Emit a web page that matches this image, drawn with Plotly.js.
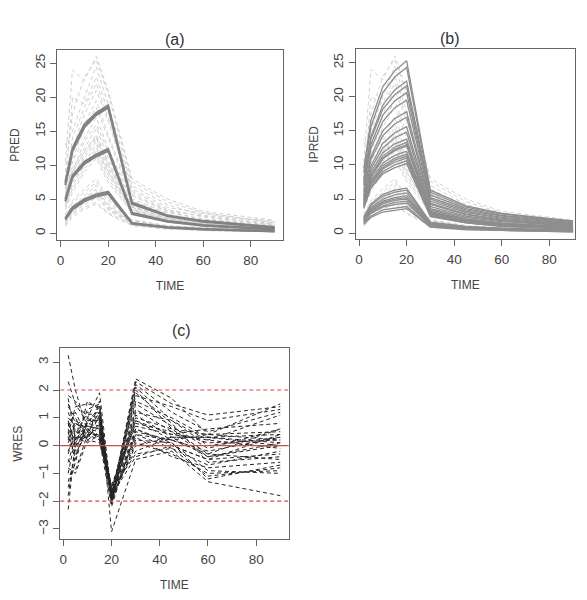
<!DOCTYPE html>
<html>
<head>
<meta charset="utf-8">
<script src="https://cdn.plot.ly/plotly-3.0.1.min.js"></script>
<style>html,body{margin:0;padding:0;background:#fff;}#plot{width:587px;height:600px;}</style>
</head>
<body>
<div id="plot"></div>
<script>
// Sampling times
const TIME = [2, 5, 10, 15, 20, 30, 45, 60, 90];

// Population predictions (PRED) for the three dose groups (two nearly overlapping curves each)
const predHigh  = [7.5, 12.5, 16.0, 17.7, 18.8, 4.5, 2.6, 1.8, 0.9];
const predHigh2 = [7.1, 12.1, 15.6, 17.4, 18.5, 4.3, 2.5, 1.7, 0.8];
const predMid   = [5.0, 8.5, 10.5, 11.6, 12.4, 3.0, 1.8, 1.2, 0.6];
const predMid2  = [4.7, 8.2, 10.2, 11.3, 12.1, 2.8, 1.7, 1.1, 0.55];
const predLow   = [2.2, 3.8, 5.0, 5.7, 6.1, 1.5, 0.9, 0.6, 0.3];
const predLow2  = [2.0, 3.5, 4.7, 5.4, 5.8, 1.4, 0.8, 0.55, 0.28];

// Individual predictions (IPRED), one row per subject
const ipred = [
  [9.5, 16.5, 21.5, 23.8, 25.3, 6.3, 4.0, 2.9, 1.8],
  [8.8, 15.6, 20.6, 22.9, 24.3, 6.0, 3.8, 2.8, 1.7],
  [8.0, 14.2, 18.8, 21.0, 22.3, 5.6, 3.6, 2.6, 1.6],
  [7.7, 13.8, 18.2, 20.3, 21.6, 5.2, 3.4, 2.5, 1.5],
  [7.3, 13.0, 17.3, 19.4, 20.6, 5.0, 3.2, 2.3, 1.4],
  [7.0, 12.4, 16.4, 18.4, 19.5, 4.7, 3.0, 2.2, 1.3],
  [6.3, 11.3, 15.0, 16.8, 17.8, 4.4, 2.8, 2.0, 1.2],
  [6.0, 10.8, 14.3, 16.0, 17.0, 4.2, 2.7, 1.9, 1.2],
  [5.6, 9.9, 13.2, 14.7, 15.6, 3.9, 2.5, 1.8, 1.1],
  [5.3, 9.4, 12.5, 14.0, 14.8, 3.6, 2.3, 1.7, 1.0],
  [5.0, 8.9, 11.8, 13.1, 13.8, 3.4, 2.1, 1.5, 0.9],
  [4.8, 8.5, 11.3, 12.6, 13.3, 3.2, 2.0, 1.4, 0.8],
  [4.6, 8.2, 10.9, 12.1, 12.8, 3.0, 1.9, 1.3, 0.8],
  [4.2, 7.5, 9.9, 11.0, 11.6, 2.8, 1.7, 1.2, 0.7],
  [4.1, 7.3, 9.6, 10.7, 11.3, 2.7, 1.7, 1.2, 0.7],
  [4.0, 7.1, 9.4, 10.4, 11.0, 2.6, 1.6, 1.1, 0.6],
  [3.8, 6.8, 9.0, 10.0, 10.6, 2.5, 1.5, 1.0, 0.6],
  [4.4, 7.8, 10.3, 11.4, 12.0, 2.9, 1.8, 1.3, 0.7],
  [4.7, 8.3, 11.0, 12.3, 13.0, 3.1, 1.9, 1.4, 0.8],
  [3.7, 6.6, 8.7, 9.6, 10.2, 2.4, 1.5, 1.0, 0.6],
  [2.4, 4.3, 5.7, 6.3, 6.6, 1.6, 1.0, 0.7, 0.4],
  [2.3, 4.1, 5.4, 6.0, 6.3, 1.5, 0.9, 0.7, 0.4],
  [2.1, 3.8, 5.0, 5.6, 5.9, 1.4, 0.9, 0.6, 0.4],
  [2.0, 3.6, 4.7, 5.2, 5.5, 1.3, 0.8, 0.6, 0.3],
  [1.9, 3.4, 4.5, 5.0, 5.2, 1.3, 0.8, 0.6, 0.3],
  [1.8, 3.2, 4.3, 4.8, 5.0, 1.2, 0.7, 0.5, 0.3],
  [1.7, 3.1, 4.0, 4.5, 4.7, 1.1, 0.7, 0.5, 0.3],
  [1.6, 2.9, 3.8, 4.2, 4.4, 1.1, 0.7, 0.5, 0.3],
  [1.4, 2.5, 3.4, 3.7, 3.9, 0.9, 0.6, 0.4, 0.2],
  [1.3, 2.3, 3.1, 3.4, 3.6, 0.9, 0.5, 0.4, 0.2]
];

// Observed concentrations (DV), one row per subject
const dv = [
  [10.5, 24.0, 22.5, 26.0, 21.0, 8.0, 5.0, 3.2, 1.9],
  [9.0, 17.5, 23.0, 25.5, 20.5, 7.6, 4.6, 3.0, 1.6],
  [13.0, 15.0, 20.0, 24.5, 19.0, 7.0, 4.2, 2.6, 1.8],
  [7.0, 20.0, 19.0, 23.0, 18.0, 6.5, 3.8, 2.9, 1.5],
  [6.5, 14.0, 18.5, 22.0, 17.0, 6.2, 3.5, 2.4, 1.3],
  [8.0, 12.5, 17.5, 21.0, 16.5, 5.8, 3.3, 2.5, 1.4],
  [5.5, 12.0, 16.0, 19.5, 14.5, 5.5, 3.2, 2.0, 1.2],
  [7.0, 11.0, 15.5, 18.5, 14.0, 5.0, 3.0, 2.1, 1.3],
  [5.0, 10.5, 14.0, 17.0, 12.5, 4.8, 2.8, 1.8, 1.0],
  [6.0, 9.0, 13.5, 16.0, 12.0, 4.5, 2.6, 1.9, 1.1],
  [5.5, 9.5, 12.5, 15.5, 11.0, 4.3, 2.4, 1.6, 1.0],
  [4.5, 9.0, 12.0, 14.5, 10.5, 4.0, 2.2, 1.5, 0.8],
  [5.0, 8.0, 11.5, 14.0, 10.0, 3.8, 2.2, 1.4, 0.9],
  [4.0, 8.0, 10.5, 13.0, 9.0, 3.5, 1.9, 1.3, 0.7],
  [4.5, 7.0, 10.0, 12.5, 9.0, 3.4, 2.0, 1.2, 0.8],
  [3.5, 7.5, 10.0, 12.0, 8.5, 3.3, 1.8, 1.2, 0.6],
  [4.0, 6.5, 9.5, 11.5, 8.0, 3.1, 1.7, 1.1, 0.7],
  [4.8, 8.5, 11.0, 13.5, 9.5, 3.6, 2.0, 1.4, 0.7],
  [5.2, 8.8, 12.0, 14.2, 10.0, 3.9, 2.1, 1.5, 0.9],
  [3.5, 6.0, 9.0, 11.0, 7.5, 3.0, 1.6, 1.0, 0.6],
  [2.8, 4.8, 6.5, 8.0, 5.2, 2.0, 1.1, 0.8, 0.4],
  [2.2, 4.5, 6.0, 7.5, 5.0, 1.9, 1.0, 0.8, 0.5],
  [2.5, 4.0, 5.5, 7.0, 4.6, 1.8, 1.0, 0.7, 0.4],
  [1.8, 3.8, 5.2, 6.5, 4.2, 1.6, 0.9, 0.6, 0.3],
  [2.0, 3.6, 5.0, 6.2, 4.0, 1.6, 0.9, 0.7, 0.4],
  [1.6, 3.5, 4.8, 6.0, 3.8, 1.5, 0.8, 0.5, 0.3],
  [1.9, 3.2, 4.5, 5.6, 3.6, 1.4, 0.8, 0.6, 0.3],
  [1.4, 3.0, 4.2, 5.2, 3.4, 1.3, 0.7, 0.5, 0.3],
  [1.2, 2.8, 3.8, 4.6, 3.0, 1.2, 0.7, 0.4, 0.2],
  [1.0, 2.4, 3.5, 4.3, 2.8, 1.1, 0.6, 0.4, 0.2]
];

// Weighted residuals (WRES), one row per subject
const wres = [
  [3.25, 2.0, 0.5, 1.0, -1.9, 2.4, 1.7, 0.4, 1.5],
  [2.3, 1.5, 0.8, 1.4, -2.1, 2.3, 1.5, 1.1, 1.4],
  [1.8, 1.6, 1.0, 1.9, -1.8, 2.2, 1.2, 0.5, 1.2],
  [1.7, 0.2, 1.3, 1.5, -2.0, 2.1, 0.9, 0.2, 1.1],
  [1.5, 0.8, 0.5, 1.2, -1.7, 2.0, 0.6, -0.3, 0.6],
  [0.8, -0.1, 1.6, 1.3, -1.6, 1.6, 1.0, 0.3, 0.4],
  [0.7, 1.2, 0.3, 0.8, -2.0, 1.3, 0.5, -0.4, 0.1],
  [0.5, -0.5, 0.9, 1.1, -1.9, 1.1, 0.3, 0.3, 0.0],
  [0.3, 0.6, 0.2, 0.5, -1.5, 0.9, 0.2, -0.2, 0.3],
  [0.2, 0.9, 0.6, 0.3, -1.4, 0.7, 0.4, 0.2, -0.1],
  [0.0, 0.1, 0.7, 0.6, -1.8, 0.6, 0.0, -0.5, 0.4],
  [-0.2, 0.4, 1.2, 0.9, -2.1, 0.5, 0.2, 0.4, 0.2],
  [-0.5, -0.9, 0.4, 0.2, -1.7, 0.4, -0.1, -1.1, -0.8],
  [-1.0, 0.3, 0.1, 0.4, -1.9, 0.2, 0.1, -1.2, -0.7],
  [-1.3, -0.4, 0.8, 0.7, -2.0, 0.1, -0.3, -1.0, -0.9],
  [-1.8, 0.0, 0.5, 0.3, -1.6, -0.3, -0.1, -0.7, -0.2],
  [-2.3, 0.2, 0.6, 0.5, -1.8, -0.4, 0.0, -0.5, -0.3],
  [1.2, 0.5, 0.3, 1.6, -3.1, -0.5, -0.2, -1.3, -1.8],
  [0.6, -0.2, 0.9, 0.9, -1.9, 0.0, 0.3, -0.4, 0.0],
  [1.0, 0.7, 1.1, 1.2, -2.0, 1.8, 1.4, 0.9, 1.3],
  [-0.8, -1.0, 0.2, 0.1, -1.5, 1.0, 0.6, 0.4, 0.5],
  [0.4, 1.4, 1.5, 1.4, -2.0, 1.5, 0.7, -0.1, 0.6],
  [-0.3, 0.6, 0.7, 0.6, -1.7, 0.8, 0.5, 0.1, 0.2],
  [0.9, 0.0, 0.4, 0.4, -1.8, 0.3, -0.4, -0.8, -0.6],
  [1.4, 1.0, 0.2, 1.1, -1.9, 1.9, 0.8, -0.6, -0.4],
  [-1.5, -0.6, 1.0, 0.8, -1.6, -0.2, 0.3, 0.3, 0.1],
  [0.1, 0.8, 0.6, 0.2, -2.2, 0.6, 0.1, -0.9, -1.0],
  [-0.6, 0.3, 0.3, 0.7, -1.7, 1.2, 0.9, 0.0, 0.3],
  [0.8, 0.2, 0.8, 1.0, -2.0, 0.4, 0.2, -0.3, -0.5],
  [0.3, -0.3, 0.5, 0.3, -1.8, 0.9, 0.4, 0.6, 0.8]
];

// Reference lines for the WRES panel
const wresRef = [-2, 0, 2];

const traces = [];
function line(x, y, xa, ya, color, width, dash) {
  traces.push({type: 'scatter', mode: 'lines', x: x, y: y, xaxis: xa, yaxis: ya,
    line: {color: color, width: width, dash: dash}, hoverinfo: 'skip', showlegend: false});
}

// (a) observations dashed, PRED thick
dv.forEach(r => line(TIME, r, 'x', 'y', '#cfcfcf', 1, '4px,3px'));
[predHigh, predHigh2, predMid, predMid2, predLow, predLow2].forEach(r => line(TIME, r, 'x', 'y', '#828282', 2.2, 'solid'));

// (b) observations dashed, IPRED solid
dv.forEach(r => line(TIME, r, 'x2', 'y2', '#d2d2d2', 1, '4px,3px'));
ipred.forEach(r => line(TIME, r, 'x2', 'y2', '#8e8e8e', 1.3, 'solid'));

// (c) WRES dashed black + reference lines
wres.forEach(r => line(TIME, r, 'x3', 'y3', '#262626', 1, '4px,3px'));
const tEnds = [-10, 110];
wresRef.forEach(v => line(tEnds, [v, v], 'x3', 'y3', '#d34a4a', 1.2, v === 0 ? 'solid' : '4px,3px'));

const F = 'Liberation Sans, Arial, sans-serif';
const tickFont = {family: F, size: 13.5, color: '#444'};
const titleFont = {family: F, size: 12, color: '#444'};

function xax(domain, range, anchor) {
  return {domain: domain, range: range, anchor: anchor, tickvals: [0, 20, 40, 60, 80],
    ticks: 'outside', ticklen: 6, tickcolor: '#666', tickwidth: 1, ticklabelstandoff: 2,
    showline: true, linecolor: '#666', linewidth: 1, mirror: true, showgrid: false, zeroline: false,
    tickfont: tickFont, title: {text: 'TIME', font: titleFont, standoff: 14}, fixedrange: true};
}
function yax(domain, range, anchor, tv, title) {
  return {domain: domain, range: range, anchor: anchor, tickvals: tv,
    ticks: 'outside', ticklen: 6, tickcolor: '#666', tickwidth: 1, tickangle: -90,
    showline: true, linecolor: '#666', linewidth: 1, mirror: true, showgrid: false, zeroline: false,
    tickfont: tickFont, title: {text: title, font: titleFont, standoff: 10}, fixedrange: true};
}

const layout = {
  width: 587, height: 600,
  margin: {l: 0, r: 0, t: 0, b: 0},
  paper_bgcolor: '#fff', plot_bgcolor: '#fff',
  showlegend: false,
  xaxis: xax([0.0971, 0.4821], [-1.52, 93.52], 'y'),
  yaxis: yax([0.6, 0.9167], [-1.0, 26.96], 'x', [0, 5, 10, 15, 20, 25], 'PRED'),
  xaxis2: xax([0.606, 0.9795], [-1.4, 90.8], 'y2'),
  yaxis2: yax([0.6012, 0.9178], [-0.9, 26.96], 'x2', [0, 5, 10, 15, 20, 25], 'IPRED'),
  xaxis3: xax([0.1022, 0.4918], [-1.4, 93.5], 'y3'),
  yaxis3: yax([0.1012, 0.4195], [-3.37, 3.5], 'x3', [-3, -2, -1, 0, 1, 2, 3], 'WRES'),
  annotations: [
    {text: '(a)', x: 163 / 587, y: 1 - 29 / 600, xref: 'paper', yref: 'paper', showarrow: false, font: {family: F, size: 16, color: '#333'}},
    {text: '(b)', x: 462 / 587, y: 1 - 28 / 600, xref: 'paper', yref: 'paper', showarrow: false, font: {family: F, size: 16, color: '#333'}},
    {text: '(c)', x: 170 / 587, y: 1 - 330 / 600, xref: 'paper', yref: 'paper', showarrow: false, font: {family: F, size: 16, color: '#333'}}
  ]
};

Plotly.newPlot('plot', traces, layout, {displayModeBar: false, staticPlot: true});
</script>
</body>
</html>
